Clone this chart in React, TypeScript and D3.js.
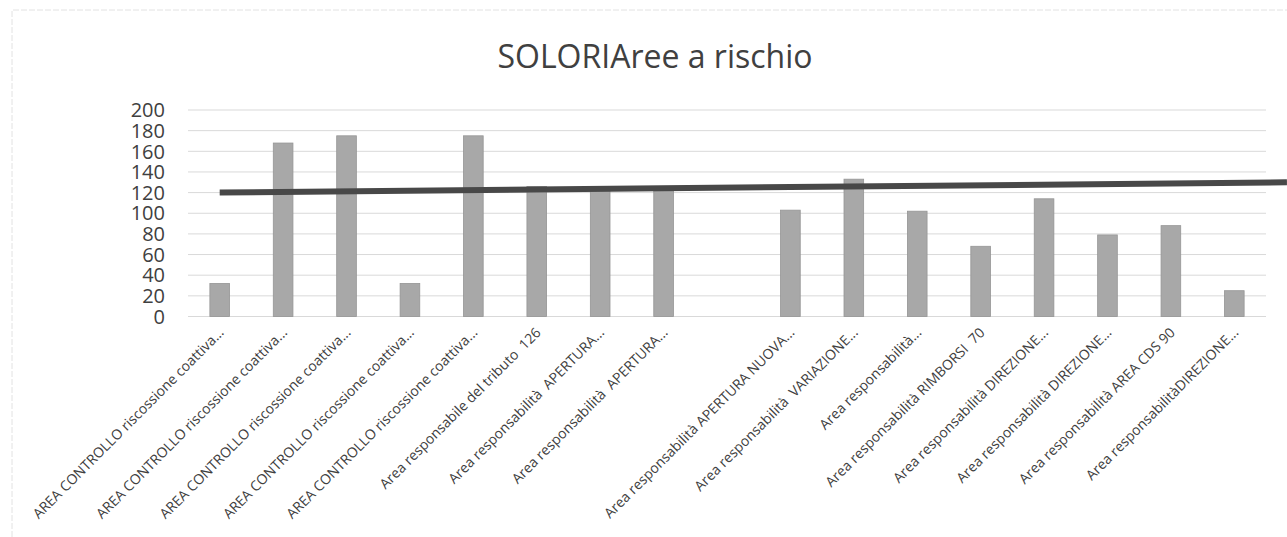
import React from "react";
import * as d3 from "d3";

const categories = [
  "AREA CONTROLLO riscossione coattiva...",
  "AREA CONTROLLO riscossione coattiva...",
  "AREA CONTROLLO riscossione coattiva...",
  "AREA CONTROLLO riscossione coattiva...",
  "AREA CONTROLLO riscossione coattiva...",
  "Area responsabile del tributo  126",
  "Area responsabilità  APERTURA...",
  "Area responsabilità  APERTURA...",
  "",
  "Area responsabilità APERTURA NUOVA...",
  "Area responsabilità  VARIAZIONE...",
  "Area responsabilità...",
  "Area responsabilità RIMBORSI  70",
  "Area responsabilità DIREZIONE...",
  "Area responsabilità DIREZIONE...",
  "Area responsabilità AREA CDS 90",
  "Area responsabilitàDIREZIONE...",
];

const values = [32, 168, 175, 32, 175, 126, 125, 126, 0, 103, 133, 102, 68, 114, 79, 88, 25];

const yTicks = [0, 20, 40, 60, 80, 100, 120, 140, 160, 180, 200];

// trend line: category positions (index units) and values at both ends
const trendAt = [0, 16.83];
const trendValues = [120, 130];

const W = 1287;
const H = 537;
const plot = { left: 188, right: 1266, top: 110, bottom: 316.5 };
const font = "'Open Sans', 'Liberation Sans', sans-serif";

const App = () => {
  const x = d3
    .scaleBand<number>()
    .domain(d3.range(categories.length))
    .range([plot.left, plot.right])
    .paddingInner(0.69)
    .paddingOuter(0.345);

  const y = d3.scaleLinear().domain([0, 200]).range([plot.bottom, plot.top]);

  const y0 = y(0);
  const center = (i: number) => (x(i) as number) + x.bandwidth() / 2;

  const xi = d3.scaleLinear().domain([0, 1]).range([center(0), center(1)]);

  const trendLine = d3
    .line<number>()
    .x((d) => xi(d))
    .y((_, i) => y(trendValues[i]));

  return (
    <svg
      width={W}
      height={H}
      style={{ position: "absolute", left: 0, top: 0, background: "#fff" }}
    >
      <path d={`M12,${H} V10 H${W}`} fill="none" stroke="#e2e2e2" strokeWidth={1} strokeDasharray="6 2" />

      <text x={655} y={68} textAnchor="middle" fontFamily={font} fontSize={32} fill="#404040">
        SOLORIAree a rischio
      </text>

      {yTicks.map((t) => (
        <g key={t}>
          <line x1={plot.left} x2={plot.right} y1={y(t)} y2={y(t)} stroke="#d9d9d9" strokeWidth={1} />
          <text x={165} y={y(t)} dy="0.36em" textAnchor="end" fontFamily={font} fontSize={20} fill="#404040">
            {t}
          </text>
        </g>
      ))}

      {values.map((v, i) =>
        v > 0 ? (
          <rect
            key={i}
            x={x(i)}
            y={y(v)}
            width={x.bandwidth()}
            height={y0 - y(v)}
            fill="#a8a8a8"
            stroke="#959595"
            strokeWidth={0.8}
          />
        ) : null
      )}

      <path d={trendLine(trendAt) || ""} fill="none" stroke="#484848" strokeWidth={6} />

      {categories.map((c, i) => (
        <text
          key={i}
          transform={`translate(${center(i) + 5},${y0 + 17}) rotate(-45)`}
          textAnchor="end"
          fontFamily={font}
          fontSize={14}
          fill="#404040"
          style={{ whiteSpace: "pre" }}
        >
          {c}
        </text>
      ))}
    </svg>
  );
};

export default App;
